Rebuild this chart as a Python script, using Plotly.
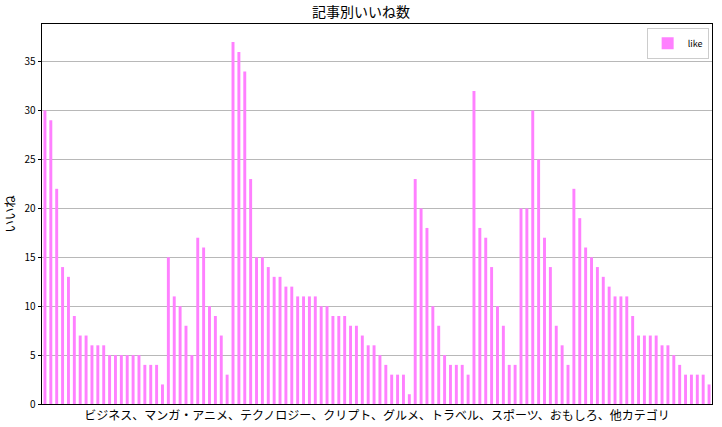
import plotly.graph_objects as go

likes_business_to_tech = [30, 29, 22, 14, 13, 9, 7, 7, 6, 6, 6, 5, 5, 5, 5, 5, 5, 4, 4, 4, 2, 15, 11, 10]
likes_part2 = [8, 5, 17, 16, 10, 9, 7, 3, 37, 36, 34, 23, 15, 15, 14, 13, 13, 12, 12, 11, 11, 11, 11, 10, 10, 9, 9, 9]
likes_part3 = [8, 8, 7, 6, 6, 5, 4, 3, 3, 3, 1, 23, 20, 18, 10, 8, 5, 4, 4, 4, 3, 32, 18, 17, 14, 10, 8, 4, 4]
likes_part4 = [20, 20, 30, 25, 17, 14, 8, 6, 4, 22, 19, 16, 15, 14, 13, 12, 11, 11, 11, 9, 7, 7, 7, 7, 6, 6, 5, 4, 3, 3, 3, 3, 2]

likes = likes_business_to_tech + likes_part2 + likes_part3 + likes_part4
article_index = list(range(len(likes)))

title_text = "記事別いいね数"
y_label = "いいね"
x_label = "ビジネス、マンガ・アニメ、テクノロジー、クリプト、グルメ、トラベル、スポーツ、おもしろ、他カテゴリ"
series_name = "like"
y_ticks = [0, 5, 10, 15, 20, 25, 30, 35]

font_family = "Noto Sans CJK JP, Noto Sans, DejaVu Sans, sans-serif"

fig = go.Figure()
fig.add_trace(go.Bar(
    x=article_index, y=likes, name=series_name,
    marker=dict(color="#ff80ff", line=dict(width=0)),
    width=0.5,
))

fig.update_layout(
    width=722, height=427,
    autosize=False,
    margin=dict(l=42, r=10, t=24, b=23, autoexpand=False),
    paper_bgcolor="white", plot_bgcolor="white",
    font=dict(family=font_family, color="black", size=10),
    title=dict(text=title_text, x=0.5, xanchor="center", y=0.972, yanchor="middle",
               font=dict(size=14, family=font_family)),
    showlegend=True,
    legend=dict(x=0.995, y=0.99, xanchor="right", yanchor="top",
                bordercolor="#cccccc", borderwidth=1, bgcolor="white",
                font=dict(size=9), itemwidth=30, tracegroupgap=0),
    bargap=0.5,
)

fig.update_xaxes(
    range=[-0.5, len(likes) - 0.5],
    showticklabels=False, ticks="",
    showgrid=False, zeroline=False,
    showline=True, linecolor="black", linewidth=1, mirror=True,
    title=dict(text=x_label, standoff=7, font=dict(size=12)),
)
fig.update_yaxes(
    range=[0, 38.85],
    tickvals=y_ticks,
    ticks="outside", ticklen=3.5, tickcolor="black",
    showgrid=True, gridcolor="#b8b8b8", gridwidth=1,
    zeroline=False,
    showline=True, linecolor="black", linewidth=1, mirror=True,
    title=dict(text=y_label, standoff=6, font=dict(size=12.5)),
    tickfont=dict(size=10),
)

fig.write_html("out.html", config={"displayModeBar": False},
               post_script="document.body.style.margin='0';document.body.style.padding='0';")
